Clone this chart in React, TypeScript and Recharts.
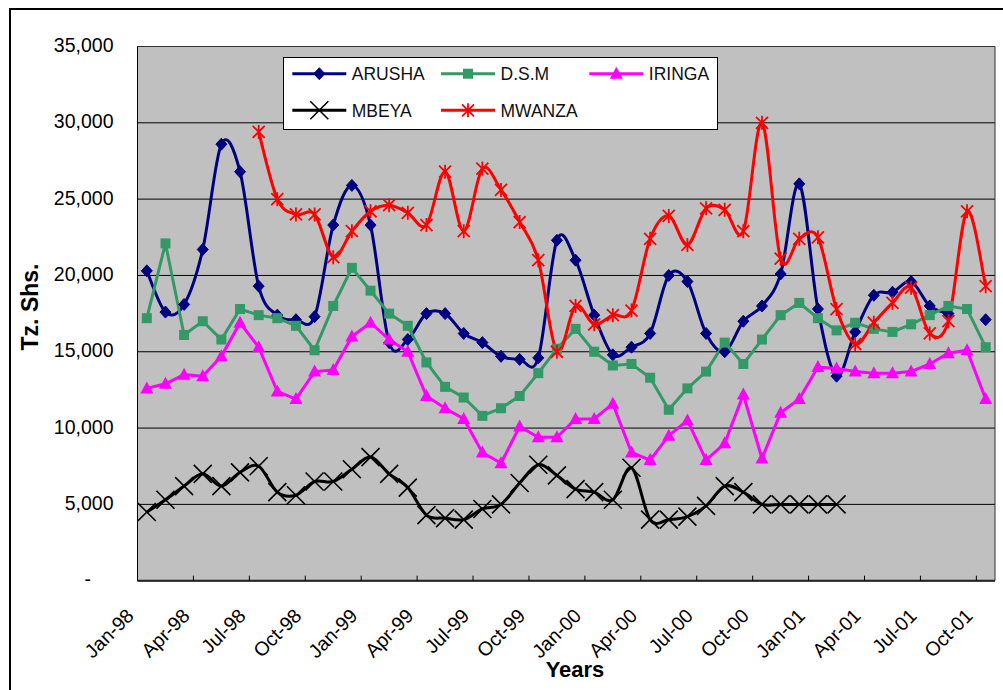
import React from 'react';
import { LineChart, Line, XAxis, YAxis, CartesianGrid, Legend, ReferenceArea, Label } from 'recharts';

// ---------- data ----------
const MONTHS = [
  'Jan-98','Feb-98','Mar-98','Apr-98','May-98','Jun-98','Jul-98','Aug-98','Sep-98','Oct-98','Nov-98','Dec-98',
  'Jan-99','Feb-99','Mar-99','Apr-99','May-99','Jun-99','Jul-99','Aug-99','Sep-99','Oct-99','Nov-99','Dec-99',
  'Jan-00','Feb-00','Mar-00','Apr-00','May-00','Jun-00','Jul-00','Aug-00','Sep-00','Oct-00','Nov-00','Dec-00',
  'Jan-01','Feb-01','Mar-01','Apr-01','May-01','Jun-01','Jul-01','Aug-01','Sep-01','Oct-01',
];

const TICK_LABELS = [
  'Jan-98','Apr-98','Jul-98','Oct-98','Jan-99','Apr-99','Jul-99','Oct-99',
  'Jan-00','Apr-00','Jul-00','Oct-00','Jan-01','Apr-01','Jul-01','Oct-01',
];

const Y_TICKS = [0, 5000, 10000, 15000, 20000, 25000, 30000, 35000];

const ARUSHA = [
  20300, 17600, 18100, 21700, 28600, 26800, 19300, 17400, 17100, 17300, 23300, 25900,
  23300, 15600, 15800, 17500, 17500, 16200, 15600, 14700, 14500, 14600, 22300, 21000,
  17400, 14800, 15300, 16200, 20000, 19600, 16200, 15000, 17000, 18000, 20100, 26000,
  17800, 13400, 16300, 18700, 18900, 19600, 18000, 17500, null, 17100,
];

const DSM = [
  17200, 22100, 16100, 17000, 15800, 17800, 17400, 17200, 16700, 15100, 18000, 20500,
  19000, 17500, 16700, 14300, 12700, 12000, 10800, 11300, 12100, 13600, 15200, 16500,
  15000, 14100, 14200, 13300, 11200, 12600, 13700, 15600, 14200, 15800, 17400, 18200,
  17200, 16400, 16900, 16500, 16300, 16800, 17400, 18000, 17800, 15300,
];

const IRINGA = [
  12600, 12900, 13500, 13400, 14700, 16900, 15300, 12400, 11900, 13700, 13800, 16000,
  16900, 15800, 15000, 12100, 11300, 10600, 8400, 7700, 10100, 9400, 9400, 10600,
  10600, 11600, 8400, 7900, 9500, 10500, 7900, 9000, 12200, 8000, 11000, 11900,
  14000, 13900, 13700, 13600, 13600, 13700, 14200, 14900, 15100, 11900,
];

const MBEYA = [
  4500, 5300, 6200, 7000, 6200, 7100, 7500, 5800, 5600, 6500, 6500, 7300,
  8100, 7000, 6100, 4300, 4100, 4000, 4700, 5000, 6400, 7600, 6900, 6000,
  5800, 5300, 7400, 4000, 4000, 4200, 4900, 6200, 5800, 5000, 5000, 5000,
  5000, 5000, null, null, null, null, null, null, null, null,
];

const MWANZA = [
  null, null, null, null, null, null, 29400, 25000, 24000, 24000, 21200, 22900,
  24200, 24600, 24100, 23300, 26800, 22900, 27000, 25600, 23500, 21000, 15000, 18000,
  16800, 17400, 17700, 22400, 23900, 22000, 24400, 24300, 22900, 30000, 21100, 22400,
  22500, 17800, 15500, 16900, 18200, 19200, 16200, 17000, 24200, 19300,
];

const SERIES = [
  { key: 'ARUSHA', values: ARUSHA, color: '#000080', shape: 'diamond', smooth: true },
  { key: 'D.S.M', values: DSM, color: '#339966', shape: 'square', smooth: false },
  { key: 'IRINGA', values: IRINGA, color: '#FF00FF', shape: 'triangle', smooth: false },
  { key: 'MBEYA', values: MBEYA, color: '#000000', shape: 'x', smooth: true },
  { key: 'MWANZA', values: MWANZA, color: '#FF0000', shape: 'star', smooth: true },
];

const DATA = MONTHS.map((m, i) => {
  const row: any = { i, month: m };
  SERIES.forEach((s) => { row[s.key] = s.values[i]; });
  return row;
});

const X_TICKS = TICK_LABELS.map((_, k) => k * 3 - 0.5);

// ---------- layout ----------
const W = 1003;
const H = 690;
const PL = 137.5;
const PR = 995;
const PT = 46.5;
const PB = 580.7;
const YW = 100;
const XH = 60;
const FONT = "Arial, 'Liberation Sans', sans-serif";

// Excel-like smoothing (uniform Catmull-Rom as cubic Bezier)
const excelSmooth: any = (context: any) => {
  let xs: number[] = [];
  let ys: number[] = [];
  let area = NaN;
  return {
    areaStart() { area = 0; },
    areaEnd() { area = NaN; },
    lineStart() { xs = []; ys = []; },
    point(x: number, y: number) { xs.push(+x); ys.push(+y); },
    lineEnd() {
      const n = xs.length;
      if (!n) return;
      if (area === 0) context.lineTo(xs[0], ys[0]);
      else context.moveTo(xs[0], ys[0]);
      if (n === 2) {
        context.lineTo(xs[1], ys[1]);
      } else {
        for (let i = 0; i < n - 1; i++) {
          const i0 = Math.max(0, i - 1);
          const i3 = Math.min(n - 1, i + 2);
          const c1x = xs[i] + (xs[i + 1] - xs[i0]) / 6;
          const c1y = ys[i] + (ys[i + 1] - ys[i0]) / 6;
          const c2x = xs[i + 1] - (xs[i3] - xs[i]) / 6;
          const c2y = ys[i + 1] - (ys[i3] - ys[i]) / 6;
          context.bezierCurveTo(c1x, c1y, c2x, c2y, xs[i + 1], ys[i + 1]);
        }
      }
    },
  };
};

function Marker({ shape, cx, cy, color }: any) {
  switch (shape) {
    case 'diamond':
      return <polygon points={`${cx},${cy - 6} ${cx + 5.5},${cy} ${cx},${cy + 6} ${cx - 5.5},${cy}`} fill={color} stroke={color} strokeWidth={1} />;
    case 'square':
      return <rect x={cx - 5} y={cy - 5} width={10} height={10} fill={color} />;
    case 'triangle':
      return <polygon points={`${cx},${cy - 7} ${cx + 6.5},${cy + 5} ${cx - 6.5},${cy + 5}`} fill={color} />;
    case 'x':
      return <path d={`M${cx - 9},${cy - 9}L${cx + 9},${cy + 9}M${cx - 9},${cy + 9}L${cx + 9},${cy - 9}`} stroke={color} strokeWidth={1.6} fill="none" />;
    case 'star':
      return <path d={`M${cx - 6},${cy - 6}L${cx + 6},${cy + 6}M${cx - 6},${cy + 6}L${cx + 6},${cy - 6}M${cx},${cy - 7}L${cx},${cy + 7}`} stroke={color} strokeWidth={1.8} fill="none" />;
    default:
      return null;
  }
}

const YTick = (props: any) => {
  const { y, payload } = props;
  const v = payload.value;
  const label = v === 0 ? '-' : Number(v).toLocaleString('en-US');
  const xEnd = v === 0 ? 91 : 113.5;
  return (
    <text x={xEnd} y={y + 5.5} textAnchor="end" fontSize={19.5} fontFamily={FONT} fill="#000">
      {label}
    </text>
  );
};

const XTick = (props: any) => {
  const { x, index } = props;
  const label = TICK_LABELS[index];
  return (
    <g>
      <line x1={x} x2={x} y1={PB} y2={PB - 5} stroke="#000" strokeWidth={1} />
      <text transform={`translate(${x - 2.5},${617}) rotate(-45)`} textAnchor="end" fontSize={19.5} fontFamily={FONT} fill="#000">
        {label}
      </text>
    </g>
  );
};

const LEGEND_LAYOUT = [
  { lx: 9.3, cy: 16.7 },
  { lx: 158, cy: 16.7 },
  { lx: 306.3, cy: 16.7 },
  { lx: 9.3, cy: 53.3 },
  { lx: 158, cy: 53.3 },
];

const LegendBox = () => (
  <svg width={435} height={73} style={{ display: 'block' }}>
    <rect x={0.5} y={0.5} width={434} height={72} fill="#fff" stroke="#000" strokeWidth={1} />
    {SERIES.map((s, k) => {
      const p = LEGEND_LAYOUT[k];
      return (
        <g key={s.key}>
          <line x1={p.lx} x2={p.lx + 54} y1={p.cy} y2={p.cy} stroke={s.color} strokeWidth={3} />
          <Marker shape={s.shape} cx={p.lx + 27} cy={p.cy} color={s.color} />
          <text x={p.lx + 59.5} y={p.cy + 6.3} fontSize={17.5} fontFamily={FONT} fill="#111">
            {s.key}
          </text>
        </g>
      );
    })}
  </svg>
);

export default function App() {
  return (
    <div style={{ position: 'absolute', left: 0, top: 0, width: W, height: H, background: '#fff', overflow: 'hidden' }}>
      <LineChart
        width={W}
        height={H}
        data={DATA}
        margin={{ top: PT, right: W - PR, left: PL - YW, bottom: H - PB - XH }}
      >
        <CartesianGrid vertical={false} stroke="#000" strokeWidth={1} fill="#C0C0C0" fillOpacity={1} />
        <XAxis
          dataKey="i"
          type="number"
          domain={[-0.5, 45.5]}
          ticks={X_TICKS}
          interval={0}
          height={XH}
          tickSize={0}
          tickMargin={0}
          tickLine={false}
          axisLine={{ stroke: '#222', strokeWidth: 2 }}
          tick={<XTick />}
          allowDataOverflow
        >
          <Label
            content={() => (
              <text x={575} y={677} textAnchor="middle" fontSize={22} fontWeight="bold" fontFamily={FONT} fill="#000">
                Years
              </text>
            )}
          />
        </XAxis>
        <YAxis
          type="number"
          domain={[0, 35000]}
          ticks={Y_TICKS}
          interval={0}
          width={YW}
          tickSize={0}
          tickMargin={0}
          tickLine={false}
          axisLine={{ stroke: '#000', strokeWidth: 1 }}
          tick={<YTick />}
          allowDataOverflow
        >
          <Label
            content={() => (
              <text transform="translate(38,307) rotate(-90)" textAnchor="middle" fontSize={23} fontWeight="bold" fontFamily={FONT} fill="#000">
                Tz. Shs.
              </text>
            )}
          />
        </YAxis>
        <ReferenceArea x1={-0.5} x2={45.5} y1={0} y2={35000} fill="none" stroke="#333" strokeWidth={1} ifOverflow="visible" />
        <Legend
          layout="horizontal"
          verticalAlign="middle"
          align="center"
          wrapperStyle={{ position: 'absolute', left: 283, top: 57, width: 435, height: 73 }}
          content={() => <LegendBox />}
        />
        {SERIES.map((s) => (
          <Line
            key={s.key}
            dataKey={s.key}
            name={s.key}
            type={s.smooth ? excelSmooth : 'linear'}
            stroke={s.color}
            strokeWidth={3}
            connectNulls={false}
            isAnimationActive={false}
            activeDot={false}
            dot={(p: any) => {
              const k = `${s.key}-${p.index}`;
              if (p.cx == null || p.cy == null || p.value == null) return <g key={k} />;
              return (
                <g key={k}>
                  <Marker shape={s.shape} cx={p.cx} cy={p.cy} color={s.color} />
                </g>
              );
            }}
          />
        ))}
      </LineChart>
      <div
        style={{
          position: 'absolute', left: 9, top: 8, width: W - 9, height: H - 8,
          borderLeft: '2px solid #000', borderTop: '2px solid #000', boxSizing: 'border-box', pointerEvents: 'none',
        }}
      />
    </div>
  );
}
